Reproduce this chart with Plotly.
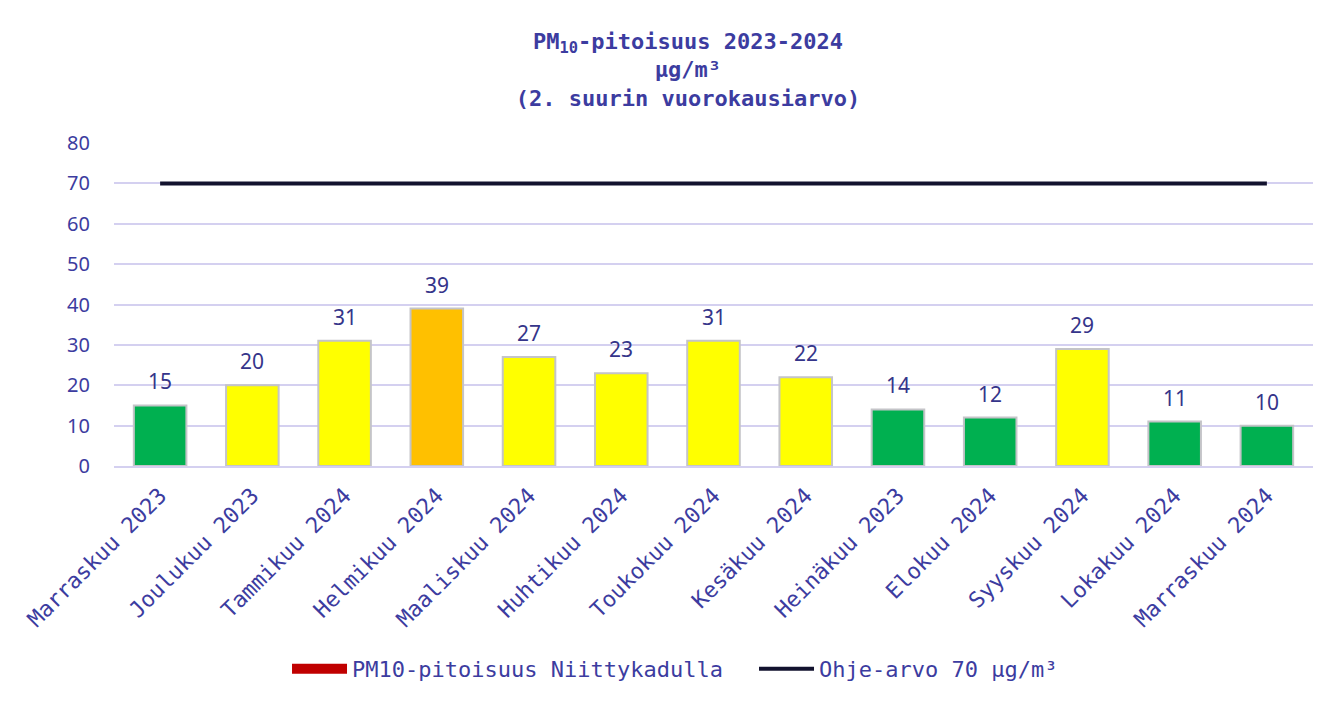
import plotly.graph_objects as go

categories = ["Marraskuu 2023", "Joulukuu 2023", "Tammikuu 2024", "Helmikuu 2024",
              "Maaliskuu 2024", "Huhtikuu 2024", "Toukokuu 2024", "Kesäkuu 2024",
              "Heinäkuu 2023", "Elokuu 2024", "Syyskuu 2024", "Lokakuu 2024",
              "Marraskuu 2024"]
pm10_values = [15, 20, 31, 39, 27, 23, 31, 22, 14, 12, 29, 11, 10]
bar_colors = ["#00B050", "#FFFF00", "#FFFF00", "#FFC000", "#FFFF00", "#FFFF00",
              "#FFFF00", "#FFFF00", "#00B050", "#00B050", "#FFFF00", "#00B050",
              "#00B050"]
guide_value = 70
guide_values = [guide_value] * len(categories)
y_ticks = [0, 10, 20, 30, 40, 50, 60, 70, 80]

TXT = "#3C3CA0"
LBL = "#35358A"
GRID = "#D4D0F0"
MONO = "DejaVu Sans Mono"
SANS = "Noto Sans"

fig = go.Figure()

fig.add_trace(go.Bar(
    x=categories, y=pm10_values,
    marker=dict(color=bar_colors, line=dict(color="#C4C4C8", width=2)),
    width=0.57, showlegend=False, hoverinfo="x+y",
))
# legend entry for the bar series (drawn as a wide red swatch)
fig.add_trace(go.Scatter(
    x=[categories[0]], y=[None], mode="lines", name="PM10-pitoisuus Niittykadulla",
    line=dict(color="#C00000", width=14), showlegend=True,
))
fig.add_trace(go.Scatter(
    x=categories, y=guide_values, mode="lines", name="Ohje-arvo 70 µg/m³",
    line=dict(color="#12122E", width=4),
))

for c, v in zip(categories, pm10_values):
    fig.add_annotation(x=c, y=v, text=str(v), showarrow=False, yanchor="bottom",
                       yshift=8, font=dict(family=SANS, size=21, color=LBL))

# outer frame of the chart
fig.add_shape(type="rect", xref="paper", yref="paper",
              x0=-0.1, x1=1.0192, y0=-1.0, y1=1.45,
              line=dict(color="#D6D2F2", width=2), fillcolor="white", layer="below")

fig.update_layout(
    width=1333, height=698,
    paper_bgcolor="#F2F2F2", plot_bgcolor="rgba(0,0,0,0)",
    margin=dict(l=106, r=28, t=135, b=240, autoexpand=False),
    title=dict(
        text="PM<sub>10</sub>-pitoisuus 2023-2024<br>µg/m³<br>(2. suurin vuorokausiarvo)",
        x=0.5101, xanchor="center", y=0.9417, yanchor="top",
        font=dict(family=MONO, size=22, color=TXT, weight="bold"),
    ),
    xaxis=dict(
        tickangle=-45, tickfont=dict(family=MONO, size=22, color=TXT),
        showgrid=False, showline=True, linecolor=GRID, linewidth=2,
        ticks="", ticklabelstandoff=6, fixedrange=True,
    ),
    yaxis=dict(
        range=[0, 80], tickvals=y_ticks, tickfont=dict(family=SANS, size=20, color=TXT),
        showgrid=True, gridcolor=GRID, gridwidth=2, zeroline=False,
        showline=False, ticks="", ticklabelstandoff=23, fixedrange=True,
    ),
    legend=dict(
        orientation="h", x=0.1443, xanchor="left", y=-0.6285, yanchor="middle",
        font=dict(family=MONO, size=22, color=TXT), itemwidth=55,
        entrywidth=397, entrywidthmode="pixels",
        bgcolor="rgba(0,0,0,0)", traceorder="normal",
    ),
    showlegend=True,
)

fig.write_html("out.html")
